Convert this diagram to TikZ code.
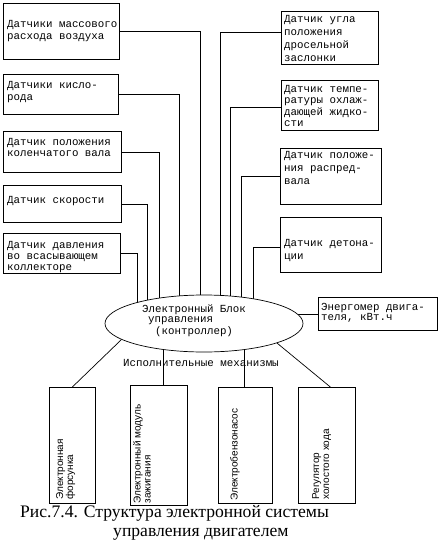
\documentclass[tikz,border=0pt]{standalone}
\usepackage{fontspec}
\setmainfont{Liberation Serif}
\setsansfont{Liberation Sans}
\setmonofont{Liberation Mono}
\usetikzlibrary{backgrounds,shapes.geometric}
\tikzset{
 box/.style={draw, line width=0.7pt, inner sep=0pt, anchor=north west},
 tw/.style={font=\ttfamily\fontsize{10.8pt}{#1}\selectfont, inner sep=0pt, anchor=base west, align=left},
 tw/.default=12pt,
 rot/.style={font=\sffamily\fontsize{10pt}{10pt}\selectfont, rotate=90, inner sep=0pt, anchor=north west, align=left},
 wire/.style={line width=0.7pt},
 captext/.style={font=\fontsize{17.6pt}{20pt}\selectfont, inner sep=0pt, anchor=base west},
}
\begin{document}
\begin{tikzpicture}[x=1pt,y=-1pt]
\useasboundingbox (0,0) rectangle (442,546);
% left sensors (text nodes placed at the baseline of their last line)
\node[box, minimum width=116pt, minimum height=56pt] (s1) at (3,3) {};
\node[tw=12pt] (s1t) at (7,39) {Датчики массового\\расхода воздуха};
\node[box, minimum width=115pt, minimum height=40pt] (s2) at (3,74) {};
\node[tw=12pt] (s2t) at (7,100) {Датчики кисло-\\рода};
\node[box, minimum width=118pt, minimum height=41pt] (s3) at (3,131) {};
\node[tw=11pt] (s3t) at (7,156) {Датчик положения\\коленчатого вала};
\node[box, minimum width=118pt, minimum height=37pt] (s4) at (3,185) {};
\node[tw=11pt] (s4t) at (7,203) {Датчик скорости};
\node[box, minimum width=117pt, minimum height=40pt] (s5) at (3,233) {};
\node[tw=11pt] (s5t) at (7,270) {Датчик давления\\во всасывающем\\коллекторе};
% right sensors
\node[box, minimum width=97pt, minimum height=53pt] (r1) at (281,11) {};
\node[tw=13pt] (r1t) at (284,61) {Датчик угла\\положения\\дросельной\\заслонки};
\node[box, minimum width=97pt, minimum height=50pt] (r2) at (281,80) {};
\node[tw=11.5pt] (r2t) at (284,126.5) {Датчик темпе-\\ратуры охлаж-\\дающей жидко-\\сти};
\node[box, minimum width=101pt, minimum height=56pt] (r3) at (280,148) {};
\node[tw=13pt] (r3t) at (284,184) {Датчик положе-\\ния распред-\\вала};
\node[box, minimum width=101pt, minimum height=55pt] (r4) at (280,217) {};
\node[tw=13pt] (r4t) at (284,259) {Датчик детона-\\ции};
% energy meter
\node[box, minimum width=119pt, minimum height=33pt] (en) at (318,297) {};
\node[tw=10pt] (ent) at (321,320) {Энергомер двига-\\теля, кВт.ч};
% controller
\node[draw, ellipse, fill=white, line width=0.7pt, inner sep=0pt, minimum width=198pt, minimum height=57pt] (ctl) at (204,323.5) {};
\node[tw=10pt] (ctlt) at (142,334) {Электронный Блок\\\hspace*{6pt}управления\\\hspace*{13pt}(контроллер)};
\node[tw] (lab) at (123,366) {Исполнительные механизмы};
% actuators
\node[box, minimum width=46pt, minimum height=116pt] (a1) at (49,387) {};
\node[rot] (a1t) at ([xshift=7pt,yshift=4pt]a1.south west) {Электронная\\форсунка};
\node[box, minimum width=57pt, minimum height=120pt] (a2) at (130,385) {};
\node[rot] (a2t) at ([xshift=3pt,yshift=2pt]a2.south west) {Электронный модуль\\зажигания};
\node[box, minimum width=54pt, minimum height=116pt] (a3) at (218,387) {};
\node[rot] (a3t) at ([xshift=12pt,yshift=3pt]a3.south west) {Электробензонасос};
\node[box, minimum width=57pt, minimum height=116pt] (a4) at (298,387) {};
\node[rot] (a4t) at ([xshift=14pt,yshift=4pt]a4.south west) {Регулятор\\холостого хода};
% caption
\node[captext] (cap1) at (20,517) {Рис.7.4. Структура электронной системы};
\node[captext] (cap2) at (113,536) {управления двигателем};
% connectors
\draw[wire] (ctl.191) -- (a1.north);
\draw[wire] (ctl.345) -- ([xshift=3.5pt]a4.north);
\begin{scope}[on background layer]
\fill[white] (0,0) rectangle (442,546);
\draw[wire] (s1.east) -| ([xshift=-4pt]ctl.center);
\draw[wire] (s2.east) -| ([xshift=-25pt]ctl.center);
\draw[wire] (s3.east) -| ([xshift=-45pt]ctl.center);
\draw[wire] (s4.east) -| ([xshift=-57pt]ctl.center);
\draw[wire] (s5.east) -| ([xshift=-67pt]ctl.center);
\draw[wire] ([yshift=5.5pt]r1.west) -| ([xshift=16pt]ctl.center);
\draw[wire] ([yshift=-2pt]r2.west) -| ([xshift=26pt]ctl.center);
\draw[wire] (r3.west) -| ([xshift=37pt]ctl.center);
\draw[wire] ([yshift=-2.5pt]r4.west) -| ([xshift=49pt]ctl.center);
\draw[wire] (en.west) -- (en.west -| ctl.center);
\draw[wire] ([xshift=4.5pt]a2.north) -- ([xshift=4.5pt]a2.north |- ctl.center);
\draw[wire] ([xshift=-1pt]a3.north) -- ([xshift=-1pt]a3.north |- ctl.center);
\end{scope}
\end{tikzpicture}
\end{document}
